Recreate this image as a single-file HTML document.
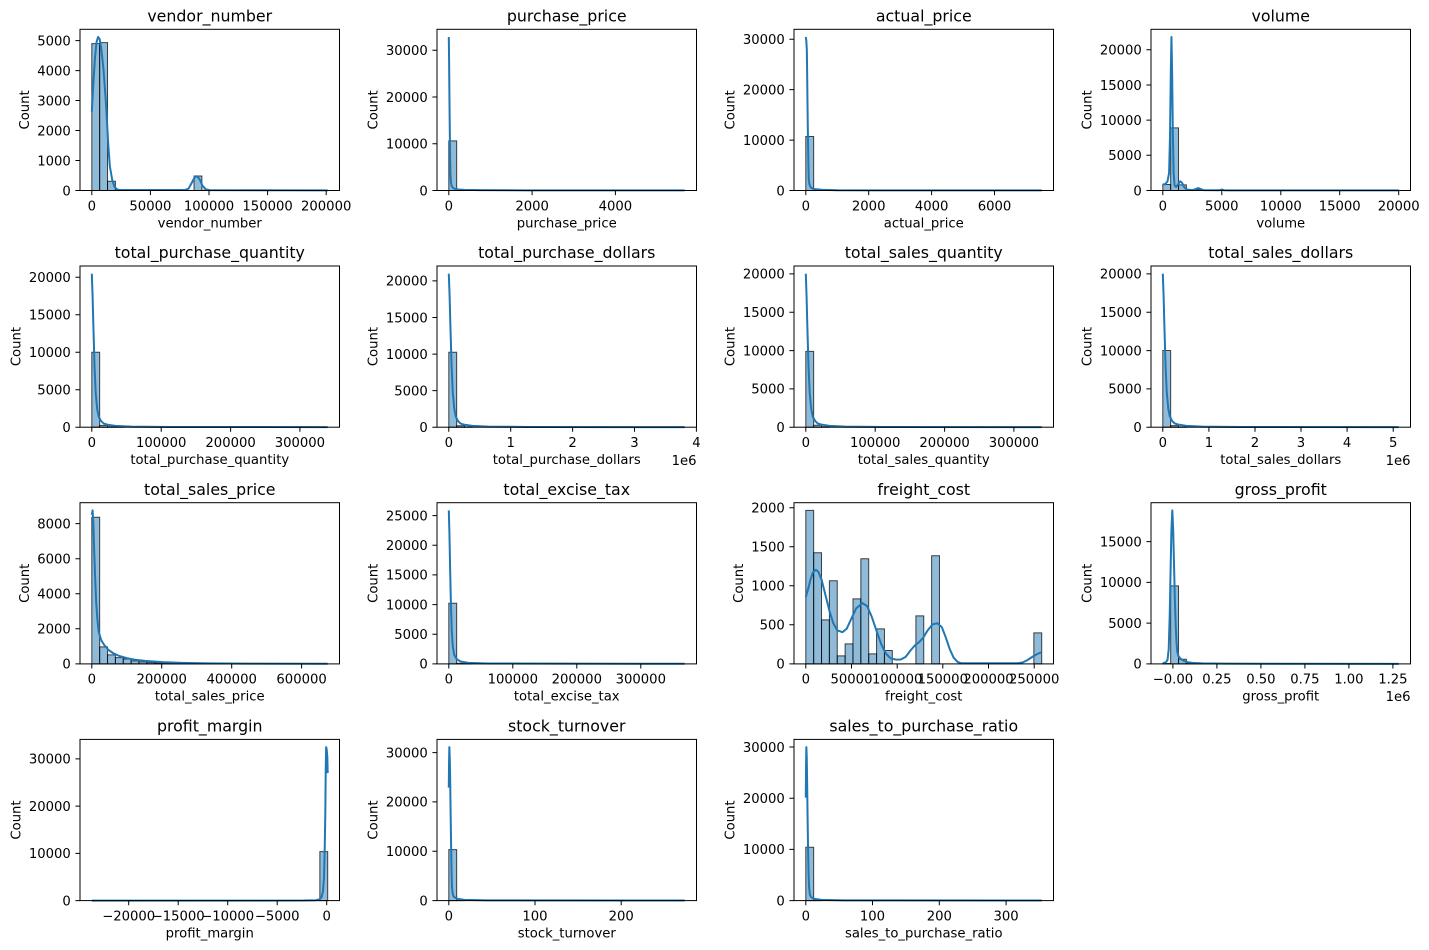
<!DOCTYPE html>
<html><head><meta charset="utf-8">
<style>
html,body{margin:0;padding:0;background:#fff;}
svg{display:block;}
text{font-family:"DejaVu Sans","Liberation Sans",sans-serif;fill:#000;}
.ti{font-size:15.8px;text-anchor:middle;}
.xl{font-size:13.2px;text-anchor:middle;}
.yl{font-size:13.2px;text-anchor:end;}
.lb{font-size:13.2px;text-anchor:middle;}
.of{font-size:13.2px;text-anchor:end;}
.b{fill:#1f77b4;fill-opacity:.5;stroke:#000;stroke-opacity:.72;stroke-width:1;vector-effect:non-scaling-stroke;}
.k{fill:none;stroke:#1f77b4;stroke-width:2;stroke-linejoin:round;vector-effect:non-scaling-stroke;}
.sp{fill:none;stroke:#000;stroke-width:1;}
.tk{fill:none;stroke:#000;stroke-width:1;}
</style></head>
<body>
<svg width="1429" height="950" viewBox="0 0 1429 950" xmlns="http://www.w3.org/2000/svg">
<rect x="0" y="0" width="1429" height="950" fill="#fff"/>

<!-- ===== P1 vendor_number ===== -->
<text class="ti" x="209.75" y="21.4">vendor_number</text>
<g transform="translate(91.8,190.5) scale(7.8636,-0.029985)">
<rect class="b" x="0" y="0" width="1" height="4900"/>
<rect class="b" x="1" y="0" width="1" height="4930"/>
<rect class="b" x="2" y="0" width="1" height="310"/>
<rect class="b" x="3" y="0" width="1" height="20"/>
<rect class="b" x="13" y="0" width="1" height="485"/>
<rect class="b" x="14" y="0" width="1" height="10"/>
<polyline class="k" points="0,2630 0.2,3600 0.4,4400 0.6,4950 0.8,5120 1,5050 1.2,4750 1.5,4000 1.8,2900 2.1,1500 2.3,800 2.6,350 2.9,120 3.2,40 3.6,15 11.8,15 12.3,60 12.7,250 13.1,450 13.35,480 13.7,380 14.1,150 14.5,40 15,12 30,5"/>
</g>
<rect class="sp" x="80" y="29.3" width="259.5" height="161.2"/>
<path class="tk" d="M91.8 190.5v4.6M150.4 190.5v4.6M209 190.5v4.6M267.6 190.5v4.6M326.2 190.5v4.6M80 190.5h-4.6M80 160.5h-4.6M80 130.5h-4.6M80 100.5h-4.6M80 70.6h-4.6M80 40.6h-4.6"/>
<text class="xl" x="91.8" y="210.3">0</text>
<text class="xl" x="150.4" y="210.3">50000</text>
<text class="xl" x="209" y="210.3">100000</text>
<text class="xl" x="267.6" y="210.3">150000</text>
<text class="xl" x="326.2" y="210.3">200000</text>
<text class="yl" x="70.8" y="195.3">0</text>
<text class="yl" x="70.8" y="165.3">1000</text>
<text class="yl" x="70.8" y="135.3">2000</text>
<text class="yl" x="70.8" y="105.3">3000</text>
<text class="yl" x="70.8" y="75.4">4000</text>
<text class="yl" x="70.8" y="45.4">5000</text>
<text class="lb" x="209.75" y="227.3">vendor_number</text>
<text class="lb" transform="translate(28.8,109.9) rotate(-90)">Count</text>

<!-- ===== P2 purchase_price ===== -->
<text class="ti" x="566.75" y="21.4">purchase_price</text>
<g transform="translate(448.8,190.5) scale(7.8636,-0.0046767)">
<rect class="b" x="0" y="0" width="1" height="10620"/>
<rect class="b" x="1" y="0" width="1" height="80"/>
<rect class="b" x="2" y="0" width="1" height="15"/>
<polyline class="k" points="0,32830 0.04,27500 0.08,20000 0.13,12300 0.17,7000 0.21,3500 0.28,1600 0.36,1000 0.5,600 0.76,360 1.2,220 2,140 4,80 10,40 30,20"/>
</g>
<rect class="sp" x="437" y="29.3" width="259.5" height="161.2"/>
<path class="tk" d="M448.8 190.5v4.6M532.1 190.5v4.6M615.4 190.5v4.6M437 190.5h-4.6M437 143.7h-4.6M437 97h-4.6M437 50.2h-4.6"/>
<text class="xl" x="448.8" y="210.3">0</text>
<text class="xl" x="532.1" y="210.3">2000</text>
<text class="xl" x="615.4" y="210.3">4000</text>
<text class="yl" x="427.8" y="195.3">0</text>
<text class="yl" x="427.8" y="148.5">10000</text>
<text class="yl" x="427.8" y="101.8">20000</text>
<text class="yl" x="427.8" y="55">30000</text>
<text class="lb" x="566.75" y="227.3">purchase_price</text>
<text class="lb" transform="translate(377.4,109.9) rotate(-90)">Count</text>

<!-- ===== P3 actual_price ===== -->
<text class="ti" x="923.75" y="21.4">actual_price</text>
<g transform="translate(805.8,190.5) scale(7.8636,-0.0050433)">
<rect class="b" x="0" y="0" width="1" height="10700"/>
<rect class="b" x="1" y="0" width="1" height="50"/>
<polyline class="k" points="0,30441 0.06,29800 0.13,27950 0.17,23500 0.21,18040 0.25,13000 0.3,8130 0.34,4500 0.38,2180 0.45,1300 0.55,850 0.68,530 1,300 2,150 4,60 10,30 30,15"/>
</g>
<rect class="sp" x="794" y="29.3" width="259.5" height="161.2"/>
<path class="tk" d="M805.8 190.5v4.6M868.7 190.5v4.6M931.6 190.5v4.6M994.5 190.5v4.6M794 190.5h-4.6M794 140.1h-4.6M794 89.6h-4.6M794 39.2h-4.6"/>
<text class="xl" x="805.8" y="210.3">0</text>
<text class="xl" x="868.7" y="210.3">2000</text>
<text class="xl" x="931.6" y="210.3">4000</text>
<text class="xl" x="994.5" y="210.3">6000</text>
<text class="yl" x="784.8" y="195.3">0</text>
<text class="yl" x="784.8" y="144.9">10000</text>
<text class="yl" x="784.8" y="94.4">20000</text>
<text class="yl" x="784.8" y="44">30000</text>
<text class="lb" x="923.75" y="227.3">actual_price</text>
<text class="lb" transform="translate(734.4,109.9) rotate(-90)">Count</text>

<!-- ===== P4 volume ===== -->
<text class="ti" x="1280.75" y="21.4">volume</text>
<g transform="translate(1162.8,190.5) scale(7.8636,-0.007035)">
<rect class="b" x="0" y="0" width="1" height="850"/>
<rect class="b" x="1" y="0" width="1" height="8900"/>
<rect class="b" x="2" y="0" width="1" height="800"/>
<rect class="b" x="3" y="0" width="1" height="30"/>
<rect class="b" x="4" y="0" width="1" height="120"/>
<rect class="b" x="7" y="0" width="1" height="25"/>
<polyline class="k" points="0,850 0.3,900 0.6,1300 0.8,2500 0.92,8000 1.02,17000 1.1,21823 1.18,17000 1.28,8000 1.38,2500 1.5,700 1.7,500 1.95,900 2.2,1300 2.45,1100 2.7,500 3,150 3.8,60 4.3,250 4.5,350 4.7,250 5.2,50 7.2,40 7.5,150 7.8,40 8.5,20 30,10"/>
</g>
<rect class="sp" x="1151" y="29.3" width="259.5" height="161.2"/>
<path class="tk" d="M1162.8 190.5v4.6M1221.8 190.5v4.6M1280.8 190.5v4.6M1339.7 190.5v4.6M1398.7 190.5v4.6M1151 190.5h-4.6M1151 155.3h-4.6M1151 120.1h-4.6M1151 85h-4.6M1151 49.8h-4.6"/>
<text class="xl" x="1162.8" y="210.3">0</text>
<text class="xl" x="1221.8" y="210.3">5000</text>
<text class="xl" x="1280.8" y="210.3">10000</text>
<text class="xl" x="1339.7" y="210.3">15000</text>
<text class="xl" x="1398.7" y="210.3">20000</text>
<text class="yl" x="1141.8" y="195.3">0</text>
<text class="yl" x="1141.8" y="160.1">5000</text>
<text class="yl" x="1141.8" y="124.9">10000</text>
<text class="yl" x="1141.8" y="89.8">15000</text>
<text class="yl" x="1141.8" y="54.6">20000</text>
<text class="lb" x="1280.75" y="227.3">volume</text>
<text class="lb" transform="translate(1091.4,109.9) rotate(-90)">Count</text>

<!-- ===== P5 total_purchase_quantity ===== -->
<text class="ti" x="209.75" y="258.1">total_purchase_quantity</text>
<g transform="translate(91.8,427.2) scale(7.8636,-0.0075001)">
<rect class="b" x="0" y="0" width="1" height="10000"/>
<rect class="b" x="1" y="0" width="1" height="250"/>
<rect class="b" x="2" y="0" width="1" height="70"/>
<rect class="b" x="3" y="0" width="1" height="30"/>
<polyline class="k" points="0,20470 0.1,17500 0.2,13500 0.35,8000 0.5,4500 0.7,2300 0.9,1350 1.2,800 1.5,500 2,330 3,180 5,80 10,30 30,10"/>
</g>
<rect class="sp" x="80" y="266" width="259.5" height="161.2"/>
<path class="tk" d="M91.8 427.2v4.6M161.2 427.2v4.6M230.6 427.2v4.6M299.9 427.2v4.6M80 427.2h-4.6M80 389.7h-4.6M80 352.2h-4.6M80 314.7h-4.6M80 277.2h-4.6"/>
<text class="xl" x="91.8" y="447">0</text>
<text class="xl" x="161.2" y="447">100000</text>
<text class="xl" x="230.6" y="447">200000</text>
<text class="xl" x="299.9" y="447">300000</text>
<text class="yl" x="70.8" y="432">0</text>
<text class="yl" x="70.8" y="394.5">5000</text>
<text class="yl" x="70.8" y="357">10000</text>
<text class="yl" x="70.8" y="319.5">15000</text>
<text class="yl" x="70.8" y="282">20000</text>
<text class="lb" x="209.75" y="464">total_purchase_quantity</text>
<text class="lb" transform="translate(20.4,346.6) rotate(-90)">Count</text>

<!-- ===== P6 total_purchase_dollars ===== -->
<text class="ti" x="566.75" y="258.1">total_purchase_dollars</text>
<g transform="translate(448.8,427.2) scale(7.8636,-0.007315)">
<rect class="b" x="0" y="0" width="1" height="10250"/>
<rect class="b" x="1" y="0" width="1" height="200"/>
<rect class="b" x="2" y="0" width="1" height="50"/>
<polyline class="k" points="0,20988 0.1,18000 0.2,14000 0.35,8500 0.5,4800 0.7,2500 0.9,1400 1.2,800 1.5,500 2,330 3,180 5,80 10,30 30,10"/>
</g>
<rect class="sp" x="437" y="266" width="259.5" height="161.2"/>
<path class="tk" d="M448.8 427.2v4.6M510.7 427.2v4.6M572.6 427.2v4.6M634.5 427.2v4.6M696.4 427.2v4.6M437 427.2h-4.6M437 390.6h-4.6M437 354.1h-4.6M437 317.5h-4.6M437 280.9h-4.6"/>
<text class="xl" x="448.8" y="447">0</text>
<text class="xl" x="510.7" y="447">1</text>
<text class="xl" x="572.6" y="447">2</text>
<text class="xl" x="634.5" y="447">3</text>
<text class="xl" x="696.4" y="447">4</text>
<text class="yl" x="427.8" y="432">0</text>
<text class="yl" x="427.8" y="395.4">5000</text>
<text class="yl" x="427.8" y="358.9">10000</text>
<text class="yl" x="427.8" y="322.3">15000</text>
<text class="yl" x="427.8" y="285.7">20000</text>
<text class="lb" x="566.75" y="464">total_purchase_dollars</text>
<text class="of" x="696.5" y="465">1e6</text>
<text class="lb" transform="translate(377.4,346.6) rotate(-90)">Count</text>

<!-- ===== P7 total_sales_quantity ===== -->
<text class="ti" x="923.75" y="258.1">total_sales_quantity</text>
<g transform="translate(805.8,427.2) scale(7.8636,-0.0076649)">
<rect class="b" x="0" y="0" width="1" height="9900"/>
<rect class="b" x="1" y="0" width="1" height="250"/>
<rect class="b" x="2" y="0" width="1" height="70"/>
<polyline class="k" points="0,20030 0.1,17000 0.2,13000 0.35,7800 0.5,4400 0.7,2300 0.9,1350 1.2,800 1.5,500 2,330 3,180 5,80 10,30 30,10"/>
</g>
<rect class="sp" x="794" y="266" width="259.5" height="161.2"/>
<path class="tk" d="M805.8 427.2v4.6M875.2 427.2v4.6M944.6 427.2v4.6M1013.9 427.2v4.6M794 427.2h-4.6M794 388.9h-4.6M794 350.6h-4.6M794 312.2h-4.6M794 273.9h-4.6"/>
<text class="xl" x="805.8" y="447">0</text>
<text class="xl" x="875.2" y="447">100000</text>
<text class="xl" x="944.6" y="447">200000</text>
<text class="xl" x="1013.9" y="447">300000</text>
<text class="yl" x="784.8" y="432">0</text>
<text class="yl" x="784.8" y="393.7">5000</text>
<text class="yl" x="784.8" y="355.4">10000</text>
<text class="yl" x="784.8" y="317">15000</text>
<text class="yl" x="784.8" y="278.7">20000</text>
<text class="lb" x="923.75" y="464">total_sales_quantity</text>
<text class="lb" transform="translate(734.4,346.6) rotate(-90)">Count</text>

<!-- ===== P8 total_sales_dollars ===== -->
<text class="ti" x="1280.75" y="258.1">total_sales_dollars</text>
<g transform="translate(1162.8,427.2) scale(7.8636,-0.0076649)">
<rect class="b" x="0" y="0" width="1" height="10000"/>
<rect class="b" x="1" y="0" width="1" height="200"/>
<rect class="b" x="2" y="0" width="1" height="50"/>
<polyline class="k" points="0,20030 0.1,17200 0.2,13300 0.35,8000 0.5,4600 0.7,2400 0.9,1400 1.2,800 1.5,500 2,330 3,180 5,80 10,30 30,10"/>
</g>
<rect class="sp" x="1151" y="266" width="259.5" height="161.2"/>
<path class="tk" d="M1162.8 427.2v4.6M1208.9 427.2v4.6M1255 427.2v4.6M1301 427.2v4.6M1347.1 427.2v4.6M1393.2 427.2v4.6M1151 427.2h-4.6M1151 388.9h-4.6M1151 350.6h-4.6M1151 312.2h-4.6M1151 273.9h-4.6"/>
<text class="xl" x="1162.8" y="447">0</text>
<text class="xl" x="1208.9" y="447">1</text>
<text class="xl" x="1255" y="447">2</text>
<text class="xl" x="1301" y="447">3</text>
<text class="xl" x="1347.1" y="447">4</text>
<text class="xl" x="1393.2" y="447">5</text>
<text class="yl" x="1141.8" y="432">0</text>
<text class="yl" x="1141.8" y="393.7">5000</text>
<text class="yl" x="1141.8" y="355.4">10000</text>
<text class="yl" x="1141.8" y="317">15000</text>
<text class="yl" x="1141.8" y="278.7">20000</text>
<text class="lb" x="1280.75" y="464">total_sales_dollars</text>
<text class="of" x="1410.5" y="465">1e6</text>
<text class="lb" transform="translate(1091.4,346.6) rotate(-90)">Count</text>

<!-- ===== P9 total_sales_price ===== -->
<text class="ti" x="209.75" y="494.8">total_sales_price</text>
<g transform="translate(91.8,663.9) scale(7.8636,-0.017537)">
<rect class="b" x="0" y="0" width="1" height="8365"/>
<rect class="b" x="1" y="0" width="1" height="970"/>
<rect class="b" x="2" y="0" width="1" height="513"/>
<rect class="b" x="3" y="0" width="1" height="361"/>
<rect class="b" x="4" y="0" width="1" height="280"/>
<rect class="b" x="5" y="0" width="1" height="171"/>
<rect class="b" x="6" y="0" width="1" height="114"/>
<rect class="b" x="7" y="0" width="1" height="76"/>
<rect class="b" x="8" y="0" width="1" height="57"/>
<rect class="b" x="9" y="0" width="1" height="40"/>
<rect class="b" x="10" y="0" width="1" height="30"/>
<rect class="b" x="11" y="0" width="1" height="22"/>
<rect class="b" x="12" y="0" width="1" height="16"/>
<rect class="b" x="13" y="0" width="1" height="12"/>
<rect class="b" x="14" y="0" width="1" height="9"/>
<rect class="b" x="15" y="0" width="1" height="7"/>
<rect class="b" x="16" y="0" width="1" height="5"/>
<rect class="b" x="17" y="0" width="1" height="4"/>
<rect class="b" x="18" y="0" width="1" height="3"/>
<rect class="b" x="19" y="0" width="1" height="3"/>
<rect class="b" x="20" y="0" width="1" height="2"/>
<rect class="b" x="21" y="0" width="1" height="2"/>
<polyline class="k" points="0,8500 0.1,8754 0.2,8000 0.3,6500 0.41,5073 0.55,3600 0.7,2600 0.87,1843 1.2,1350 1.57,1083 2.1,800 2.74,608 3.5,450 4.5,323 5.5,240 6.8,171 9,100 11.5,57 15,30 20,15 30,5"/>
</g>
<rect class="sp" x="80" y="502.7" width="259.5" height="161.2"/>
<path class="tk" d="M91.8 663.9v4.6M161.7 663.9v4.6M231.7 663.9v4.6M301.6 663.9v4.6M80 663.9h-4.6M80 628.8h-4.6M80 593.8h-4.6M80 558.7h-4.6M80 523.6h-4.6"/>
<text class="xl" x="91.8" y="683.7">0</text>
<text class="xl" x="161.7" y="683.7">200000</text>
<text class="xl" x="231.7" y="683.7">400000</text>
<text class="xl" x="301.6" y="683.7">600000</text>
<text class="yl" x="70.8" y="668.7">0</text>
<text class="yl" x="70.8" y="633.6">2000</text>
<text class="yl" x="70.8" y="598.6">4000</text>
<text class="yl" x="70.8" y="563.5">6000</text>
<text class="yl" x="70.8" y="528.4">8000</text>
<text class="lb" x="209.75" y="700.7">total_sales_price</text>
<text class="lb" transform="translate(28.8,583.3) rotate(-90)">Count</text>

<!-- ===== P10 total_excise_tax ===== -->
<text class="ti" x="566.75" y="494.8">total_excise_tax</text>
<g transform="translate(448.8,663.9) scale(7.8636,-0.0059319)">
<rect class="b" x="0" y="0" width="1" height="10226"/>
<rect class="b" x="1" y="0" width="1" height="100"/>
<rect class="b" x="2" y="0" width="1" height="30"/>
<polyline class="k" points="0,25881 0.08,22000 0.17,16000 0.27,10000 0.38,5500 0.5,3000 0.7,1500 1,800 1.5,400 2.5,180 5,70 30,15"/>
</g>
<rect class="sp" x="437" y="502.7" width="259.5" height="161.2"/>
<path class="tk" d="M448.8 663.9v4.6M512.8 663.9v4.6M576.8 663.9v4.6M640.8 663.9v4.6M437 663.9h-4.6M437 634.2h-4.6M437 604.6h-4.6M437 574.9h-4.6M437 545.3h-4.6M437 515.6h-4.6"/>
<text class="xl" x="448.8" y="683.7">0</text>
<text class="xl" x="512.8" y="683.7">100000</text>
<text class="xl" x="576.8" y="683.7">200000</text>
<text class="xl" x="640.8" y="683.7">300000</text>
<text class="yl" x="427.8" y="668.7">0</text>
<text class="yl" x="427.8" y="639">5000</text>
<text class="yl" x="427.8" y="609.4">10000</text>
<text class="yl" x="427.8" y="579.7">15000</text>
<text class="yl" x="427.8" y="550.1">20000</text>
<text class="yl" x="427.8" y="520.4">25000</text>
<text class="lb" x="566.75" y="700.7">total_excise_tax</text>
<text class="lb" transform="translate(377.4,583.3) rotate(-90)">Count</text>

<!-- ===== P11 freight_cost ===== -->
<text class="ti" x="923.75" y="494.8">freight_cost</text>
<g transform="translate(805.8,663.9) scale(7.8636,-0.078101)">
<rect class="b" x="0" y="0" width="1" height="1966"/>
<rect class="b" x="1" y="0" width="1" height="1423"/>
<rect class="b" x="2" y="0" width="1" height="564"/>
<rect class="b" x="3" y="0" width="1" height="1064"/>
<rect class="b" x="4" y="0" width="1" height="103"/>
<rect class="b" x="5" y="0" width="1" height="256"/>
<rect class="b" x="6" y="0" width="1" height="833"/>
<rect class="b" x="7" y="0" width="1" height="1346"/>
<rect class="b" x="8" y="0" width="1" height="128"/>
<rect class="b" x="9" y="0" width="1" height="449"/>
<rect class="b" x="10" y="0" width="1" height="171"/>
<rect class="b" x="14" y="0" width="1" height="615"/>
<rect class="b" x="16" y="0" width="1" height="1385"/>
<rect class="b" x="29" y="0" width="1" height="397"/>
<polyline class="k" points="0,855 0.3,960 0.6,1080 0.9,1170 1.27,1205 1.6,1180 2,1080 2.5,880 3,680 3.5,520 4,430 4.66,406 5.2,450 5.8,580 6.4,710 7.2,778 7.8,740 8.4,600 9,420 9.6,250 10.2,130 10.8,70 11.5,55 12.08,56 12.7,90 13.3,170 13.9,240 14.4,278 14.9,330 15.5,430 16.1,505 16.74,521 17.3,470 17.8,340 18.3,190 18.8,80 19.3,25 19.8,8 27,8 27.6,20 28.2,50 28.8,90 29.4,125 30,150"/>
</g>
<rect class="sp" x="794" y="502.7" width="259.5" height="161.2"/>
<path class="tk" d="M805.8 663.9v4.6M851.5 663.9v4.6M897.2 663.9v4.6M942.8 663.9v4.6M988.5 663.9v4.6M1034.2 663.9v4.6M794 663.9h-4.6M794 624.8h-4.6M794 585.8h-4.6M794 546.7h-4.6M794 507.7h-4.6"/>
<text class="xl" x="805.8" y="683.7">0</text>
<text class="xl" x="851.5" y="683.7">50000</text>
<text class="xl" x="897.2" y="683.7">100000</text>
<text class="xl" x="942.8" y="683.7">150000</text>
<text class="xl" x="988.5" y="683.7">200000</text>
<text class="xl" x="1034.2" y="683.7">250000</text>
<text class="yl" x="784.8" y="668.7">0</text>
<text class="yl" x="784.8" y="629.6">500</text>
<text class="yl" x="784.8" y="590.6">1000</text>
<text class="yl" x="784.8" y="551.5">1500</text>
<text class="yl" x="784.8" y="512.5">2000</text>
<text class="lb" x="923.75" y="700.7">freight_cost</text>
<text class="lb" transform="translate(742.8,583.3) rotate(-90)">Count</text>

<!-- ===== P12 gross_profit ===== -->
<text class="ti" x="1280.75" y="494.8">gross_profit</text>
<g transform="translate(1162.8,663.9) scale(7.8636,-0.0081534)">
<rect class="b" x="0" y="0" width="1" height="50"/>
<rect class="b" x="1" y="0" width="1" height="9566"/>
<rect class="b" x="2" y="0" width="1" height="572"/>
<rect class="b" x="3" y="0" width="1" height="120"/>
<rect class="b" x="4" y="0" width="1" height="50"/>
<rect class="b" x="5" y="0" width="1" height="20"/>
<polyline class="k" points="0,80 0.4,200 0.6,500 0.75,1800 0.88,6000 1,12000 1.1,16500 1.21,18830 1.32,16500 1.42,12500 1.53,8000 1.64,4700 1.75,2500 1.85,1430 2,950 2.27,613 2.7,368 3.2,200 3.75,123 5,60 8,30 15,15 30,5"/>
</g>
<rect class="sp" x="1151" y="502.7" width="259.5" height="161.2"/>
<path class="tk" d="M1172.9 663.9v4.6M1216.9 663.9v4.6M1260.9 663.9v4.6M1304.9 663.9v4.6M1348.9 663.9v4.6M1392.9 663.9v4.6M1151 663.9h-4.6M1151 623.1h-4.6M1151 582.4h-4.6M1151 541.6h-4.6"/>
<text class="xl" x="1172.9" y="683.7">−0.00</text>
<text class="xl" x="1216.9" y="683.7">0.25</text>
<text class="xl" x="1260.9" y="683.7">0.50</text>
<text class="xl" x="1304.9" y="683.7">0.75</text>
<text class="xl" x="1348.9" y="683.7">1.00</text>
<text class="xl" x="1392.9" y="683.7">1.25</text>
<text class="yl" x="1141.8" y="668.7">0</text>
<text class="yl" x="1141.8" y="627.9">5000</text>
<text class="yl" x="1141.8" y="587.2">10000</text>
<text class="yl" x="1141.8" y="546.4">15000</text>
<text class="lb" x="1280.75" y="700.7">gross_profit</text>
<text class="of" x="1410.5" y="701">1e6</text>
<text class="lb" transform="translate(1091.4,583.3) rotate(-90)">Count</text>

<!-- ===== P13 profit_margin ===== -->
<text class="ti" x="209.75" y="731.5">profit_margin</text>
<g transform="translate(91.8,900.6) scale(7.8636,-0.0047234)">
<rect class="b" x="28" y="0" width="1" height="40"/>
<rect class="b" x="29" y="0" width="1" height="10374"/>
<polyline class="k" points="0,5 20,5 27,20 28.5,80 29,300 29.23,780 29.4,2000 29.53,5000 29.62,11000 29.7,19000 29.75,28000 29.8,32500 29.87,32000 29.95,30500 30,27000"/>
</g>
<rect class="sp" x="80" y="739.4" width="259.5" height="161.2"/>
<path class="tk" d="M128.7 900.6v4.6M178.2 900.6v4.6M227.7 900.6v4.6M277.2 900.6v4.6M326.7 900.6v4.6M80 900.6h-4.6M80 853.4h-4.6M80 806.1h-4.6M80 758.9h-4.6"/>
<text class="xl" x="128.7" y="920.4">−20000</text>
<text class="xl" x="178.2" y="920.4">−15000</text>
<text class="xl" x="227.7" y="920.4">−10000</text>
<text class="xl" x="277.2" y="920.4">−5000</text>
<text class="xl" x="326.7" y="920.4">0</text>
<text class="yl" x="70.8" y="905.4">0</text>
<text class="yl" x="70.8" y="858.2">10000</text>
<text class="yl" x="70.8" y="810.9">20000</text>
<text class="yl" x="70.8" y="763.7">30000</text>
<text class="lb" x="209.75" y="937.4">profit_margin</text>
<text class="lb" transform="translate(20.4,820) rotate(-90)">Count</text>

<!-- ===== P14 stock_turnover ===== -->
<text class="ti" x="566.75" y="731.5">stock_turnover</text>
<g transform="translate(448.8,900.6) scale(7.8636,-0.0049333)">
<rect class="b" x="0" y="0" width="1" height="10338"/>
<rect class="b" x="1" y="0" width="1" height="60"/>
<polyline class="k" points="0,22900 0.03,28000 0.07,31120 0.12,29000 0.17,25000 0.23,18000 0.29,11500 0.35,6000 0.4,2800 0.5,1300 0.64,750 1.1,340 2,150 5,50 30,10"/>
</g>
<rect class="sp" x="437" y="739.4" width="259.5" height="161.2"/>
<path class="tk" d="M448.8 900.6v4.6M535 900.6v4.6M621.2 900.6v4.6M437 900.6h-4.6M437 851.3h-4.6M437 801.9h-4.6M437 752.6h-4.6"/>
<text class="xl" x="448.8" y="920.4">0</text>
<text class="xl" x="535" y="920.4">100</text>
<text class="xl" x="621.2" y="920.4">200</text>
<text class="yl" x="427.8" y="905.4">0</text>
<text class="yl" x="427.8" y="856.1">10000</text>
<text class="yl" x="427.8" y="806.7">20000</text>
<text class="yl" x="427.8" y="757.4">30000</text>
<text class="lb" x="566.75" y="937.4">stock_turnover</text>
<text class="lb" transform="translate(377.4,820) rotate(-90)">Count</text>

<!-- ===== P15 sales_to_purchase_ratio ===== -->
<text class="ti" x="923.75" y="731.5">sales_to_purchase_ratio</text>
<g transform="translate(805.8,900.6) scale(7.8636,-0.0051201)">
<rect class="b" x="0" y="0" width="1" height="10410"/>
<rect class="b" x="1" y="0" width="1" height="60"/>
<polyline class="k" points="0,20100 0.03,26000 0.07,29985 0.12,28000 0.17,23000 0.23,16000 0.29,10000 0.35,5500 0.42,2600 0.52,1200 0.66,700 1.1,330 2,150 5,50 30,10"/>
</g>
<rect class="sp" x="794" y="739.4" width="259.5" height="161.2"/>
<path class="tk" d="M805.8 900.6v4.6M872.5 900.6v4.6M939.3 900.6v4.6M1006.1 900.6v4.6M794 900.6h-4.6M794 849.4h-4.6M794 798.2h-4.6M794 747h-4.6"/>
<text class="xl" x="805.8" y="920.4">0</text>
<text class="xl" x="872.5" y="920.4">100</text>
<text class="xl" x="939.3" y="920.4">200</text>
<text class="xl" x="1006.1" y="920.4">300</text>
<text class="yl" x="784.8" y="905.4">0</text>
<text class="yl" x="784.8" y="854.2">10000</text>
<text class="yl" x="784.8" y="803">20000</text>
<text class="yl" x="784.8" y="751.8">30000</text>
<text class="lb" x="923.75" y="937.4">sales_to_purchase_ratio</text>
<text class="lb" transform="translate(734.4,820) rotate(-90)">Count</text>

</svg>
</body></html>
